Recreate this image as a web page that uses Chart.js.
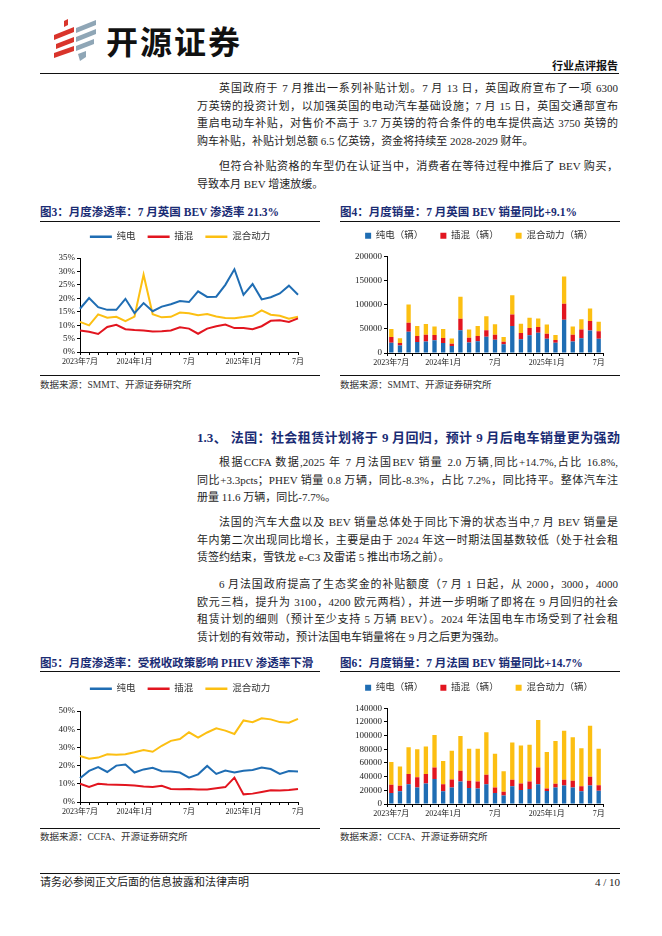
<!DOCTYPE html>
<html><head><meta charset="utf-8">
<script src="https://cdn.jsdelivr.net/npm/chart.js@4.4.0/dist/chart.umd.min.js"></script>
<style>
html,body{margin:0;padding:0;background:#fff;}
body{width:662px;height:936px;position:relative;overflow:hidden;font-family:"Liberation Serif","Noto Sans CJK SC",serif;color:#1e1e1e;}
.a{position:absolute;}
.para{position:absolute;left:197px;width:421px;font-size:11px;line-height:17.5px;}
.ln{white-space:nowrap;text-align:justify;text-align-last:justify;height:17.5px;}
.lst{white-space:nowrap;text-align:left;height:17.5px;}
.ind{padding-left:22px;}
.ftitle{position:absolute;font-family:"Liberation Serif","Noto Sans CJK SC",serif;font-weight:bold;font-size:11.5px;line-height:16px;color:#1a2c74;white-space:nowrap;}
.rule{position:absolute;height:1.3px;background:#111;}
.src{position:absolute;font-size:9.5px;line-height:14px;color:#333;white-space:nowrap;}
canvas{position:absolute;}
</style></head>
<body>
<!-- header -->
<svg class="a" style="left:52px;top:19px" width="46" height="42" viewBox="0 0 46 42">
  <polygon points="12,2 16,0 16,6 12,8" fill="#d9342b"/>
  <polygon points="2,16 22,8 22,13 2,21" fill="#d9342b"/>
  <polygon points="4,25 22,18 22,23 4,30" fill="#d9342b"/>
  <polygon points="2,34 22,27 22,32 2,39" fill="#d9342b"/>
  <polygon points="24,9 44,1 44,6 24,14" fill="#8fa6b6"/>
  <polygon points="24,18 44,10 44,15 24,23" fill="#8fa6b6"/>
  <polygon points="24,27 42,20 42,25 24,32" fill="#8fa6b6"/>
  <polygon points="26,35 34,32 34,38 28,42" fill="#8fa6b6"/>
</svg>
<div class="a" style="left:106px;top:20px;font-family:'Noto Sans CJK SC';font-weight:bold;font-size:32px;line-height:40px;color:#111;letter-spacing:2px;">开源证券</div>
<div class="a" style="right:44px;top:58px;font-family:'Noto Sans CJK SC';font-weight:bold;font-size:11px;line-height:14px;color:#111;">行业点评报告</div>
<div class="rule" style="left:40px;top:72.5px;width:579px;height:1.5px;"></div>

<div class="para" style="top:80px;">
<div class="ln ind">英国政府于 7 月推出一系列补贴计划。7 月 13 日，英国政府宣布了一项 6300</div>
<div class="ln">万英镑的投资计划，以加强英国的电动汽车基础设施；7 月 15 日，英国交通部宣布</div>
<div class="ln">重启电动车补贴，对售价不高于 3.7 万英镑的符合条件的电车提供高达 3750 英镑的</div>
<div class="lst">购车补贴，补贴计划总额 6.5 亿英镑，资金将持续至 2028-2029 财年。</div>
</div>
<div class="para" style="top:158px;">
<div class="ln ind">但符合补贴资格的车型仍在认证当中，消费者在等待过程中推后了 BEV 购买，</div>
<div class="lst">导致本月 BEV 增速放缓。</div>
</div>

<div class="ftitle" style="left:40px;top:204px;">图3：月度渗透率：7 月英国 BEV 渗透率 21.3%</div>
<div class="ftitle" style="left:340px;top:204px;">图4：月度销量：7 月英国 BEV 销量同比+9.1%</div>
<div class="rule" style="left:40px;top:220.5px;width:280px;"></div>
<div class="rule" style="left:340px;top:220.5px;width:280px;"></div>

<canvas id="c3" width="280" height="147" style="left:40px;top:220px;"></canvas>
<canvas id="c4" width="282" height="154" style="left:338px;top:214px;"></canvas>

<div class="rule" style="left:40px;top:375px;width:280px;height:1.2px;"></div>
<div class="rule" style="left:340px;top:375px;width:280px;height:1.2px;"></div>
<div class="src" style="left:40px;top:378px;">数据来源：SMMT、开源证券研究所</div>
<div class="src" style="left:340px;top:378px;">数据来源：SMMT、开源证券研究所</div>

<div class="a" style="left:197px;top:429px;width:423px;font-weight:bold;font-size:13px;line-height:18px;color:#1a2c74;white-space:nowrap;text-align:justify;text-align-last:justify;">1.3、 法国：社会租赁计划将于 9 月回归，预计 9 月后电车销量更为强劲</div>

<div class="para" style="top:454px;">
<div class="ln ind">根据CCFA 数据,2025 年 7 月法国BEV 销量 2.0 万辆,同比+14.7%,占比 16.8%,</div>
<div class="ln">同比+3.3pcts；PHEV 销量 0.8 万辆，同比-8.3%，占比 7.2%，同比持平。整体汽车注</div>
<div class="lst">册量 11.6 万辆，同比-7.7%。</div>
</div>
<div class="para" style="top:514px;">
<div class="ln ind">法国的汽车大盘以及 BEV 销量总体处于同比下滑的状态当中,7 月 BEV 销量是</div>
<div class="ln">年内第二次出现同比增长，主要是由于 2024 年这一时期法国基数较低（处于社会租</div>
<div class="lst">赁签约结束，雪铁龙 e-C3 及雷诺 5 推出市场之前）。</div>
</div>
<div class="para" style="top:576px;">
<div class="ln ind">6 月法国政府提高了生态奖金的补贴额度（7 月 1 日起，从 2000，3000，4000</div>
<div class="ln">欧元三档，提升为 3100，4200 欧元两档），并进一步明晰了即将在 9 月回归的社会</div>
<div class="ln">租赁计划的细则（预计至少支持 5 万辆 BEV）。2024 年法国电车市场受到了社会租</div>
<div class="lst">赁计划的有效带动，预计法国电车销量将在 9 月之后更为强劲。</div>
</div>

<div class="ftitle" style="left:40px;top:655px;">图5：月度渗透率：受税收政策影响 PHEV 渗透率下滑</div>
<div class="ftitle" style="left:340px;top:655px;">图6：月度销量：7 月法国 BEV 销量同比+14.7%</div>
<div class="rule" style="left:40px;top:670.5px;width:280px;"></div>
<div class="rule" style="left:340px;top:670.5px;width:280px;"></div>

<canvas id="c5" width="280" height="145" style="left:40px;top:672px;"></canvas>
<canvas id="c6" width="282" height="153" style="left:338px;top:666px;"></canvas>

<div class="rule" style="left:40px;top:827.5px;width:280px;height:1.2px;"></div>
<div class="rule" style="left:340px;top:827.5px;width:280px;height:1.2px;"></div>
<div class="src" style="left:40px;top:830px;">数据来源：CCFA、开源证券研究所</div>
<div class="src" style="left:340px;top:830px;">数据来源：CCFA、开源证券研究所</div>

<div class="rule" style="left:40px;top:872.5px;width:580px;height:1.5px;"></div>
<div class="a" style="left:40px;top:875px;font-size:11px;line-height:15px;color:#222;">请务必参阅正文后面的信息披露和法律声明</div>
<div class="a" style="right:42px;top:875px;font-size:11px;line-height:15px;color:#222;">4 / 10</div>

<script>
// ---------- data ----------
const months = ['2023年7月','2023年8月','2023年9月','2023年10月','2023年11月','2023年12月',
  '2024年1月','2024年2月','2024年3月','2024年4月','2024年5月','2024年6月',
  '2024年7月','2024年8月','2024年9月','2024年10月','2024年11月','2024年12月',
  '2025年1月','2025年2月','2025年3月','2025年4月','2025年5月','2025年6月','2025年7月'];
const tickLabels = ['2023年7月','','','','','','2024年1月','','','','','','7月','','','','','','2025年1月','','','','','','7月'];
const lineSeriesNames = ['纯电','插混','混合动力'];
const barSeriesNames = ['纯电（辆）','插混（辆）','混合动力（辆）'];

// 图3 UK penetration (%)
const ukBevShare  = [16.1,20.1,16.7,15.7,15.7,19.8,14.5,18.2,15.2,16.9,17.8,19.0,18.6,22.6,20.5,20.6,25.0,30.8,21.3,25.3,19.6,20.4,21.8,24.7,21.3];
const ukPhevShare = [8.0,7.5,6.7,9.3,10.1,8.5,8.2,8.0,7.6,7.7,8.0,9.2,8.7,6.8,8.7,9.6,10.2,8.9,8.9,8.5,9.6,11.6,11.8,11.2,12.5];
const ukHevShare  = [11.2,9.9,14.0,12.8,13.1,11.5,13.2,28.8,14.1,12.9,13.1,14.7,14.4,13.7,14.1,13.2,12.7,12.6,13.0,13.5,15.5,13.9,13.5,12.4,13.1];

// 图4 UK sales (辆)
const ukBevSales  = [21500,15500,44000,23000,24000,26500,20900,14600,47000,22000,24500,33500,27500,18000,56000,28500,37000,42000,29600,21500,69000,24000,30600,46500,29700];
const ukPhevSales = [11800,5500,18700,12400,14000,11000,10500,4500,24000,9500,11000,14000,10500,5500,24000,13000,15000,12000,10500,5500,33500,14000,18000,20000,15500];
const ukHevSales  = [16500,9500,38000,20600,22000,17500,18600,11000,46000,17500,20500,29000,21500,9500,40000,19000,21000,17500,19000,10500,56500,17000,21500,26000,19500];

// 图5 France penetration (%)
const frBevShare  = [13.0,17.1,19.2,16.5,20.0,20.6,16.2,17.9,18.8,16.9,16.7,16.2,13.4,15.2,19.8,15.4,17.3,16.2,17.2,17.6,18.9,18.1,15.4,17.0,16.8];
const frPhevShare = [10.0,8.3,10.0,9.6,9.5,9.4,9.1,8.5,8.2,8.9,7.2,7.0,7.1,6.9,6.9,7.5,8.2,13.4,4.2,4.6,5.5,6.5,6.3,6.6,7.2];
const frHevShare  = [25.3,23.8,24.4,26.2,25.9,26.2,27.3,28.6,27.6,30.9,33.6,34.6,38.3,35.4,38.2,40.5,39.2,37.4,44.8,43.8,46.0,45.4,43.9,43.6,45.7];

// 图6 France sales (辆)
const frBevSales  = [16000,18500,29000,24000,30000,36500,18500,24300,33000,23300,22800,29000,16000,12600,26000,20400,21900,29000,19000,24300,27000,24300,18500,27000,19500];
const frPhevSales = [12200,8200,15000,15000,14000,17000,10500,11700,15600,10700,10200,13800,8300,5400,9500,9600,11100,24500,3500,5300,8500,9700,7500,13000,8000];
const frHevSales  = [33100,28300,39000,41000,40000,47500,34000,42000,51000,46700,47700,62200,49100,30000,54500,55600,53500,69500,53500,62400,71500,63700,55700,74600,53200];

// ---------- style ----------
const C_BLUE = '#1f6db3', C_RED = '#e2151f', C_YEL = '#fcbf12';
const FONT = '"Liberation Serif","Noto Sans CJK SC",serif';
const noBorderLabels = (chart) =>
  Chart.defaults.plugins.legend.labels.generateLabels(chart).map(l => Object.assign(l, {lineWidth: 0}));

function xScale(isBar) {
  return {
    offset: isBar, stacked: isBar,
    border: {color: '#000', width: 1},
    grid: {drawOnChartArea: false, color: '#000', tickLength: 3, lineWidth: 1, offset: isBar},
    ticks: {autoSkip: false, maxRotation: 0, minRotation: 0, padding: 2, color: '#222',
            font: {family: FONT, size: 8}, callback: (v, i) => tickLabels[i]},
    afterFit: s => { s.height = 15; }
  };
}
function yScale(max, step, fmt, width, isBar) {
  return {
    min: 0, max: max, stacked: isBar,
    border: {color: '#000', width: 1},
    grid: {drawOnChartArea: false, color: '#000', tickLength: 3, lineWidth: 1},
    ticks: {stepSize: step, autoSkip: false, padding: 2, color: '#222', font: {family: FONT, size: 9}, callback: fmt},
    afterFit: s => { s.width = width; }
  };
}
// empty right-hand spacer axis (keeps the legend centred over the full width)
function spacerScale(width) {
  return {position: 'right', display: true, grid: {display: false}, border: {display: false},
          ticks: {display: false}, afterFit: s => { s.width = width; }};
}
// empty spacer between legend and plot area
function gap(px) {
  return {display: true, position: 'top', weight: 500, text: '', font: {size: 1},
          padding: {top: Math.max(0, px - 1.2), bottom: 0}};
}

function makeLine(id, series, max, step, yW, padR, g) {
  new Chart(document.getElementById(id), {
    type: 'line',
    data: {labels: months, datasets: series.map((d, k) => ({
      label: lineSeriesNames[k], data: d,
      borderColor: [C_BLUE, C_RED, C_YEL][k], backgroundColor: [C_BLUE, C_RED, C_YEL][k]
    }))},
    options: {
      responsive: false, animation: false,
      elements: {line: {borderWidth: 2, tension: 0}, point: {radius: 0, hoverRadius: 0}},
      plugins: {
        legend: {labels: {boxWidth: 22, boxHeight: 2.5, padding: 12, color: '#333',
                 font: {family: FONT, size: 9.5}, generateLabels: noBorderLabels}},
        subtitle: gap(g),
        tooltip: {enabled: false}
      },
      scales: {x: xScale(false), y: yScale(max, step, v => v + '%', yW, false), yR: spacerScale(padR)}
    }
  });
}

function makeBar(id, series, max, step, yW, padR, g) {
  new Chart(document.getElementById(id), {
    type: 'bar',
    data: {labels: months, datasets: series.map((d, k) => ({
      label: barSeriesNames[k], data: d,
      backgroundColor: [C_BLUE, C_RED, C_YEL][k], borderWidth: 0
    }))},
    options: {
      responsive: false, animation: false,
      datasets: {bar: {barPercentage: 0.5, categoryPercentage: 1}},
      plugins: {
        legend: {labels: {boxWidth: 6, boxHeight: 6, padding: 17, color: '#333',
                 font: {family: FONT, size: 9.5}, generateLabels: noBorderLabels}},
        subtitle: gap(g),
        tooltip: {enabled: false}
      },
      scales: {x: xScale(true), y: yScale(max, step, v => String(v), yW, true), yR: spacerScale(padR)}
    }
  });
}

makeLine('c3', [ukBevShare, ukPhevShare, ukHevShare], 35, 5, 40, 22, 6.5);
makeBar('c4', [ukBevSales, ukPhevSales, ukHevSales], 200000, 50000, 49, 17, 6.2);
makeLine('c5', [frBevShare, frPhevShare, frHevShare], 50, 10, 40, 22, 7.5);
makeBar('c6', [frBevSales, frPhevSales, frHevSales], 140000, 20000, 49, 17, 5.8);
</script>
</body></html>
